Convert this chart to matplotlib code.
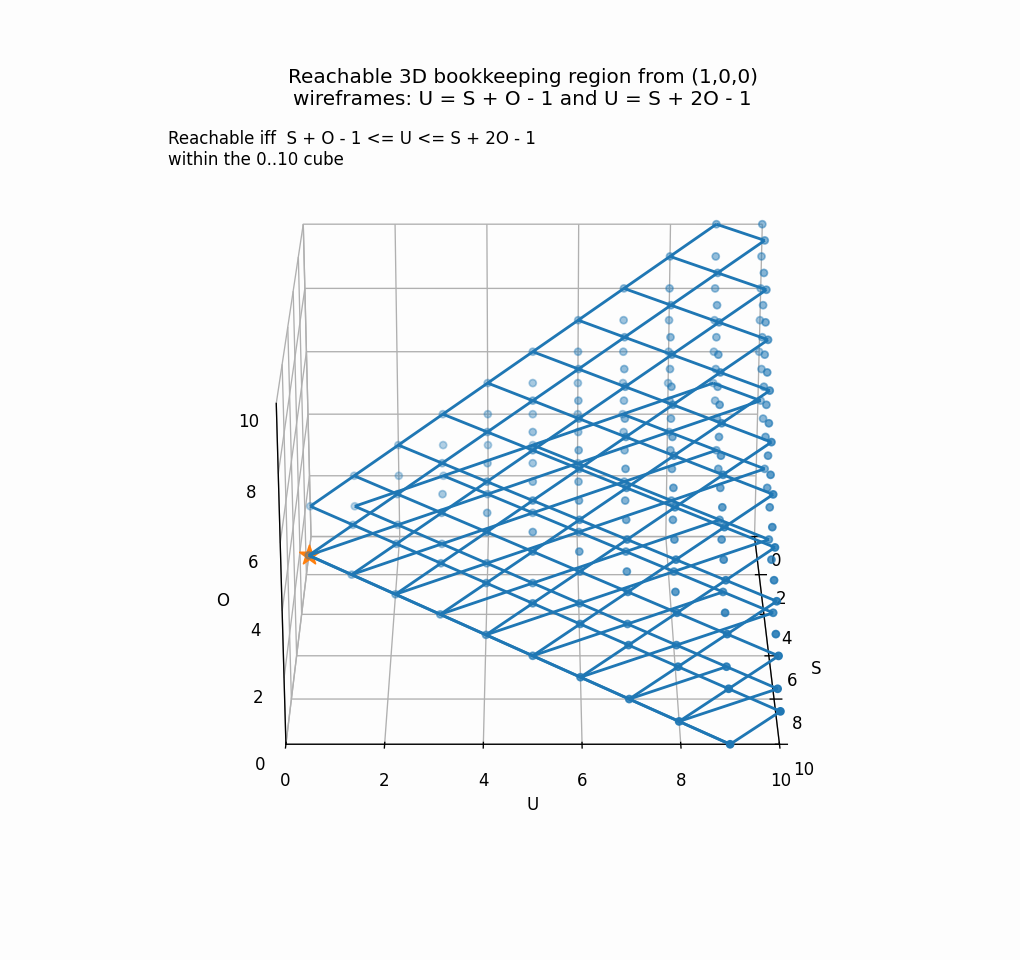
import numpy as np
import matplotlib
matplotlib.use("Agg")
import matplotlib.pyplot as plt

n = np.nan
S_values = list(range(11))
O_values = list(range(11))
# rows: O = 0..10, columns: S = 0..10
U_lower = [
    [n, 0, 1, 2, 3, 4, 5, 6, 7, 8, 9],
    [0, 1, 2, 3, 4, 5, 6, 7, 8, 9, 10],
    [1, 2, 3, 4, 5, 6, 7, 8, 9, 10, n],
    [2, 3, 4, 5, 6, 7, 8, 9, 10, n, n],
    [3, 4, 5, 6, 7, 8, 9, 10, n, n, n],
    [4, 5, 6, 7, 8, 9, 10, n, n, n, n],
    [5, 6, 7, 8, 9, 10, n, n, n, n, n],
    [6, 7, 8, 9, 10, n, n, n, n, n, n],
    [7, 8, 9, 10, n, n, n, n, n, n, n],
    [8, 9, 10, n, n, n, n, n, n, n, n],
    [9, 10, n, n, n, n, n, n, n, n, n],
]
U_upper = [
    [n, 0, 1, 2, 3, 4, 5, 6, 7, 8, 9],
    [1, 2, 3, 4, 5, 6, 7, 8, 9, 10, n],
    [3, 4, 5, 6, 7, 8, 9, 10, n, n, n],
    [5, 6, 7, 8, 9, 10, n, n, n, n, n],
    [7, 8, 9, 10, n, n, n, n, n, n, n],
    [9, 10, n, n, n, n, n, n, n, n, n],
    [n] * 11,
    [n] * 11,
    [n] * 11,
    [n] * 11,
    [n] * 11,
]
start = (0, 1, 0)  # U, S, O

S_grid, O_grid = np.meshgrid(S_values, O_values)
low = np.array(U_lower, float)
high = np.array(U_upper, float)

pts_u, pts_s, pts_o = [], [], []
for i, o in enumerate(O_values):
    for j, s in enumerate(S_values):
        if np.isnan(low[i, j]):
            continue
        top = high[i, j] if not np.isnan(high[i, j]) else 10
        for u in range(int(low[i, j]), int(top) + 1):
            pts_u.append(u); pts_s.append(s); pts_o.append(o)

fig = plt.figure(figsize=(8.5, 8), dpi=120, facecolor="#fdfdfd")
ax = fig.add_subplot(111, projection="3d", facecolor="#fdfdfd")
ax.scatter(pts_u, pts_s, pts_o, s=18, color="C0")
ax.plot_wireframe(low, S_grid, O_grid, color="C0", linewidth=1.7)
ax.plot_wireframe(high, S_grid, O_grid, color="C0", linewidth=1.7)
ax.scatter([start[0]], [start[1]], [start[2]], marker="*", s=150, color="C1", depthshade=False)
ax.set_xlim(0, 10); ax.set_ylim(10, 0); ax.set_zlim(0, 10)
ax.set_xlabel("U"); ax.set_ylabel("S"); ax.set_zlabel("O")
ax.xaxis.pane.set_visible(False); ax.yaxis.pane.set_visible(False); ax.zaxis.pane.set_visible(False)
ax.view_init(elev=24, azim=-89.99)
ax.zaxis.set_ticks_position("upper")
ax.zaxis.set_label_position("upper")
ax.zaxis._axinfo["tick"]["inward_factor"] = 0
ax.zaxis._axinfo["tick"]["outward_factor"] = 0
ax.set_title("Reachable 3D bookkeeping region from (1,0,0)\nwireframes: U = S + O - 1 and U = S + 2O - 1")
fig.text(168/1020, 1-165/960, "Reachable iff  S + O - 1 <= U <= S + 2O - 1\nwithin the 0..10 cube")
fig.savefig("out.png", dpi=120, facecolor=fig.get_facecolor())
